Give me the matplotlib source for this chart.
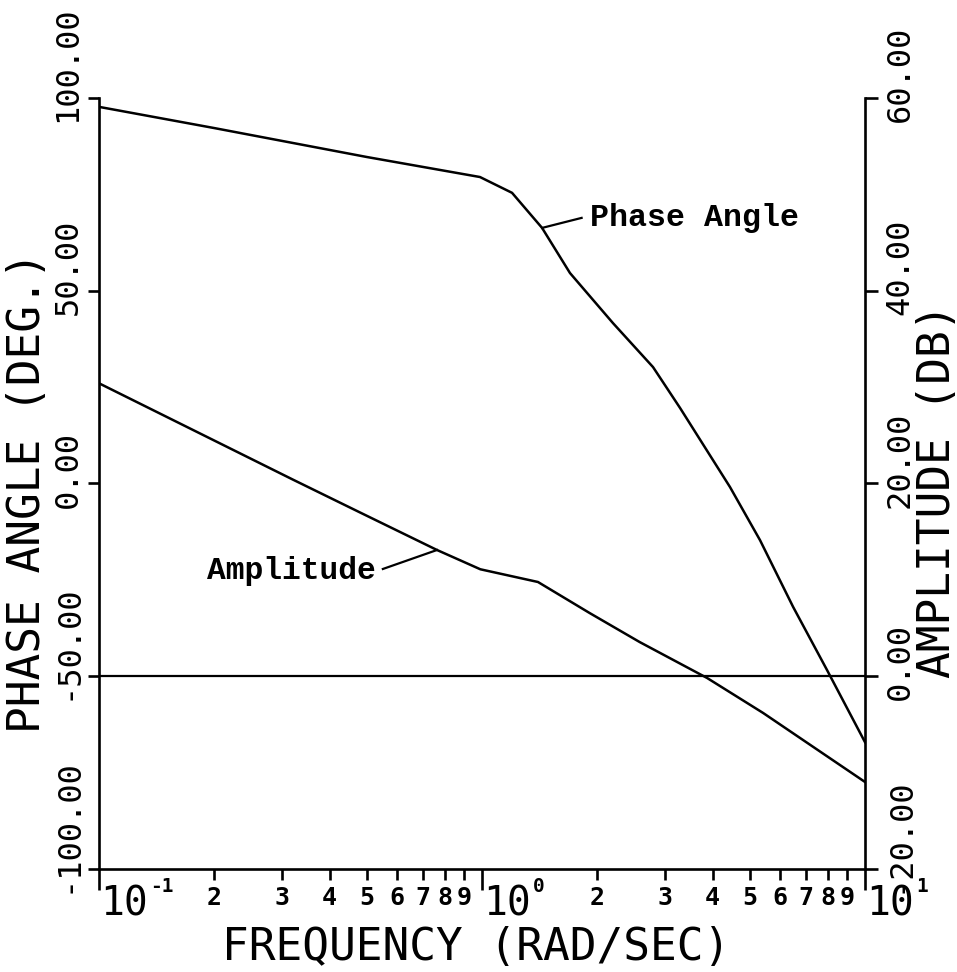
import numpy as np
import matplotlib
matplotlib.use("Agg")
import matplotlib.pyplot as plt
import matplotlib.transforms as mtransforms

# frequency response read at these points (rad/sec)
freq = [0.1, 0.2, 0.5, 0.988, 1.198, 1.435, 1.697, 2.198, 2.796, 3.289,
        4.44, 5.32, 6.49, 7.96, 10.0]
phase = [97.7, 92.2, 84.7, 79.5, 75.4, 66.3, 54.6, 41.6, 30.2, 19.6,
         -0.9, -14.7, -32.0, -48.4, -67.1]

amp_freq = [0.1, 0.321, 0.48, 0.763, 0.99, 1.40, 1.91, 2.58, 3.87, 5.42, 10.0]
amplitude = [30.4, 20.4, 17.0, 13.1, 11.1, 9.78, 6.56, 3.55, -0.18, -3.81, -10.97]

phase_ticks = [-100, -50, 0, 50, 100]
phase_labels = ["-100.00", "-50.00", "0.00", "50.00", "100.00"]
amp_ticks = [-20, 0, 20, 40, 60]
amp_labels = ["-20.00", "0.00", "20.00", "40.00", "60.00"]
decades = [0.1, 1.0, 10.0]
decade_exp = ["-1", "0", "1"]
minor_digits = ["2", "3", "4", "5", "6", "7", "8", "9"]

W, H = 957, 972
DPI = 100
MONO = "DejaVu Sans Mono"

fig = plt.figure(figsize=(W / DPI, H / DPI), dpi=DPI, facecolor="white")
ax = fig.add_axes([99 / W, 1 - 869 / H, (865 - 99) / W, (869 - 98) / H])
ax2 = ax.twinx()

ax.set_xscale("log")
ax.set_xlim(0.1, 10)
ax.set_ylim(-100, 100)
ax2.set_ylim(-20, 60)

for a in (ax, ax2):
    a.spines["top"].set_visible(False)
    for s in a.spines.values():
        s.set_linewidth(1.9)
ax.spines["right"].set_visible(False)
ax2.spines["left"].set_visible(False)
ax2.spines["bottom"].set_visible(False)

ax.set_yticks(phase_ticks)
ax.set_yticklabels([])
ax.tick_params(axis="y", direction="out", length=8, width=1.9)
ax2.set_yticks(amp_ticks)
ax2.set_yticklabels([])
ax2.tick_params(axis="y", direction="out", length=9, width=1.9)

ax.set_xticks(decades)
ax.set_xticks([d * m for d in decades[:-1] for m in range(2, 10)], minor=True)
ax.set_xticklabels([])
ax.set_xticklabels([], minor=True)
ax.tick_params(axis="x", which="major", direction="out", length=15, width=1.9)
ax.tick_params(axis="x", which="minor", direction="out", length=8, width=1.9)

# curves
ax.plot(freq, phase, color="black", lw=1.8)
ax2.plot(amp_freq, amplitude, color="black", lw=1.8)
ax.axhline(-50, color="black", lw=1.6)

# curve labels with leader lines
ax.plot([1.435, 1.82], [66.3, 68.9], color="black", lw=1.6)
ax.text(1.91, 66.8, "Phase Angle", fontsize=22.8, family="Liberation Mono",
        fontweight="bold", ha="left", va="baseline")
ax2.plot([0.551, 0.763], [11.13, 13.1], color="black", lw=1.6)
ax2.text(0.191, 10.1, "Amplitude", fontsize=22.5, family="Liberation Mono",
         fontweight="bold", ha="left", va="baseline")

# rotated y tick labels, starting just below each tick
shift = mtransforms.ScaledTranslation(0, -0.24, fig.dpi_scale_trans)
left_tr = mtransforms.blended_transform_factory(fig.transFigure, ax.transData) + shift
right_tr = mtransforms.blended_transform_factory(fig.transFigure, ax2.transData) + shift
for v, lab in zip(phase_ticks, phase_labels):
    ax.text(68 / W, v, lab, transform=left_tr, rotation=90, rotation_mode="anchor",
            ha="left", va="center", fontsize=23, family=MONO, clip_on=False)
for v, lab in zip(amp_ticks, amp_labels):
    ax2.text(900 / W, v, lab, transform=right_tr, rotation=90, rotation_mode="anchor",
             ha="left", va="center", fontsize=23, family=MONO, clip_on=False)

# x tick labels: 10^n at decades, single digits between
xfig = mtransforms.blended_transform_factory(ax.transData, fig.transFigure)
for d, e in zip(decades, decade_exp):
    ax.text(d, 1 - 884 / H, "10",
            transform=xfig + mtransforms.ScaledTranslation(0.01, 0, fig.dpi_scale_trans),
            ha="left", va="top", fontsize=28.5, family=MONO, clip_on=False)
    ax.text(d, 1 - 877 / H, e,
            transform=xfig + mtransforms.ScaledTranslation(0.51, 0, fig.dpi_scale_trans),
            ha="left", va="top", fontsize=14, family=MONO, fontweight="bold", clip_on=False)
for d in decades[:-1]:
    for m, lab in zip(range(2, 10), minor_digits):
        ax.text(d * m, 1 - 886 / H, lab, transform=xfig, ha="center", va="top",
                fontsize=18, family=MONO, fontweight="bold", clip_on=False)

# axis titles
fig.text(476 / W, 1 - 947 / H, "FREQUENCY (RAD/SEC)", ha="center", va="center",
         fontsize=32, family=MONO)
fig.text(28 / W, 1 - 492 / H, "PHASE ANGLE (DEG.)", ha="center", va="center",
         rotation=90, fontsize=32, family=MONO)
fig.text(937 / W, 1 - 491 / H, "AMPLITUDE (DB)", ha="center", va="center",
         rotation=90, fontsize=32, family=MONO)

fig.savefig("out.png", dpi=DPI, facecolor="white")
